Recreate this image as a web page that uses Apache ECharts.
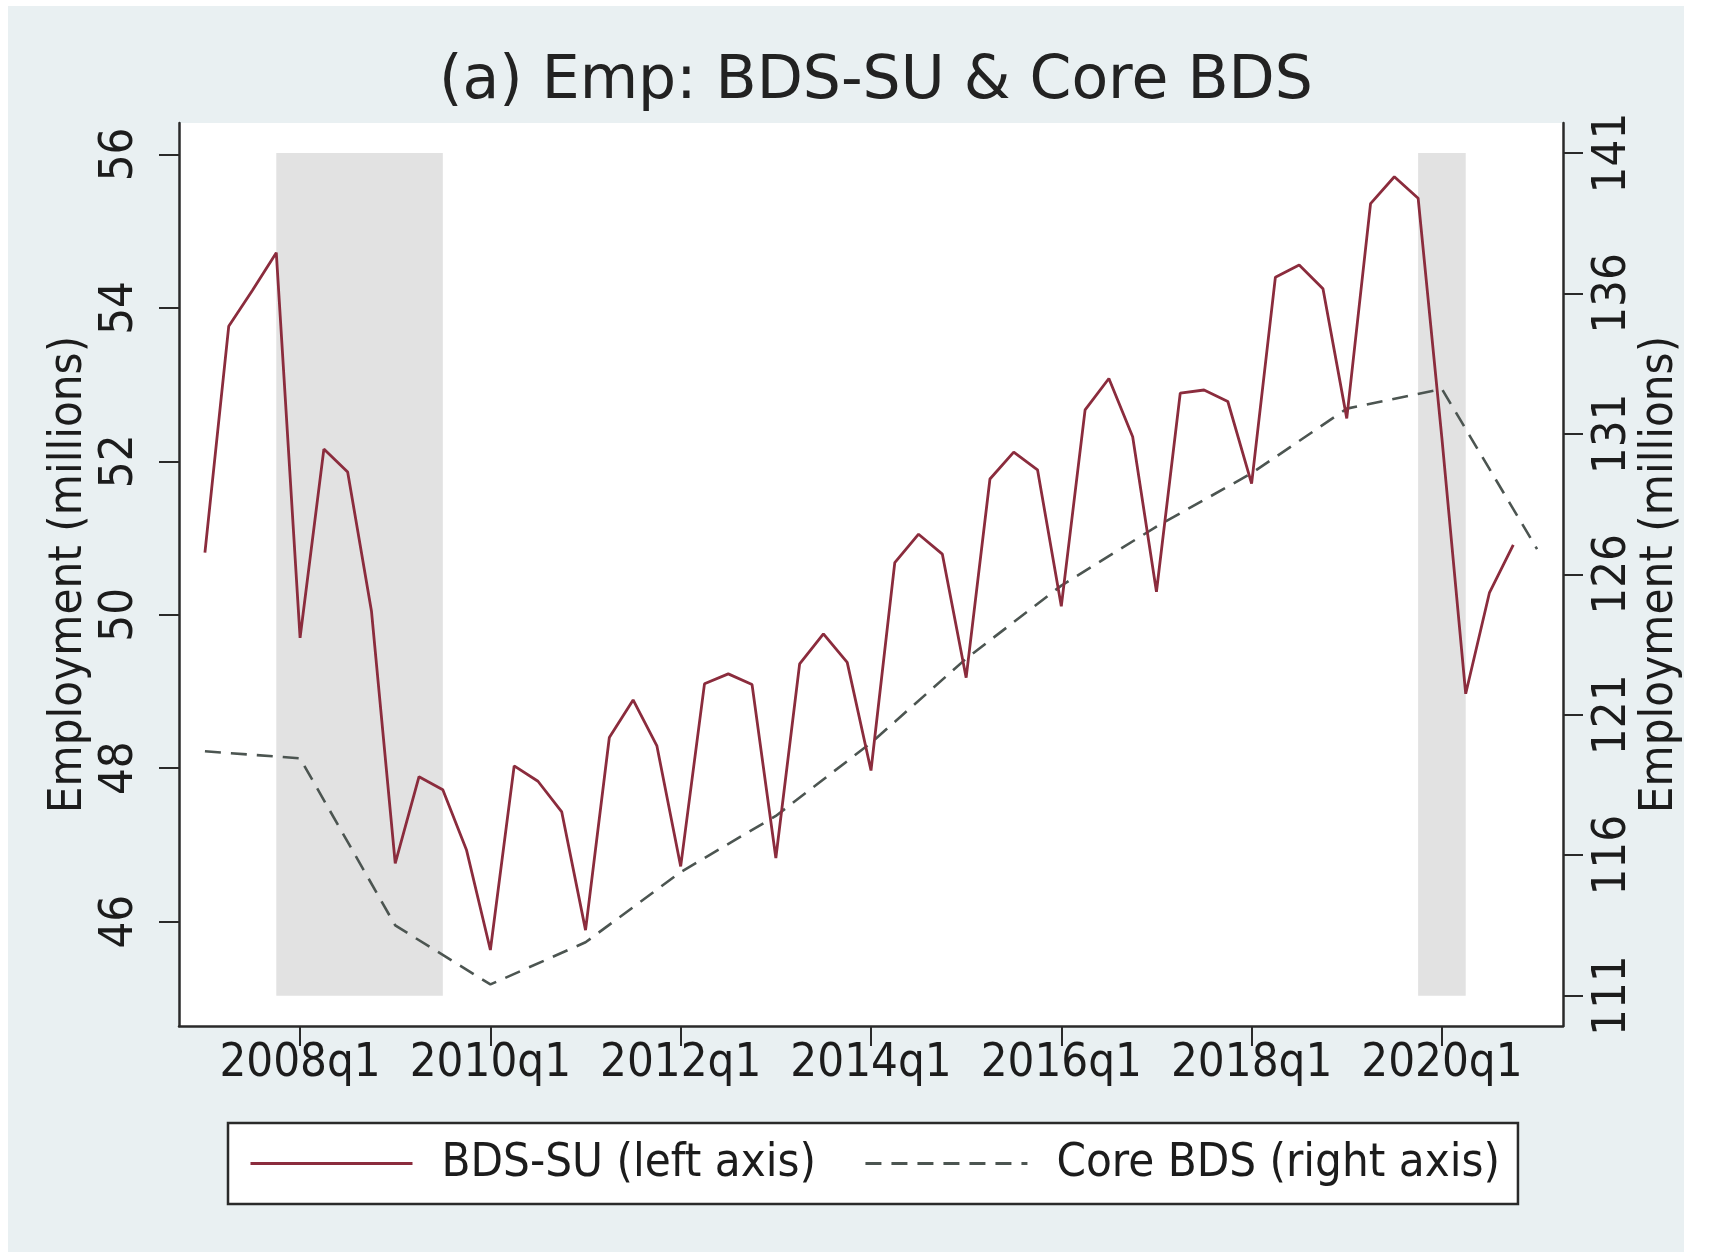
<!DOCTYPE html>
<html>
<head>
<meta charset="utf-8">
<script src="https://cdn.jsdelivr.net/npm/echarts@6/dist/echarts.min.js"></script>
<style>
  html, body { margin: 0; padding: 0; background: #fff; }
  #container { width: 1721px; height: 1255px; }
</style>
</head>
<body>
<div id="container"></div>
<script>
// quarterly BDS-SU employment (left axis, millions)
var quarters = [
  '2007q1','2007q2','2007q3','2007q4','2008q1','2008q2','2008q3','2008q4',
  '2009q1','2009q2','2009q3','2009q4','2010q1','2010q2','2010q3','2010q4',
  '2011q1','2011q2','2011q3','2011q4','2012q1','2012q2','2012q3','2012q4',
  '2013q1','2013q2','2013q3','2013q4','2014q1','2014q2','2014q3','2014q4',
  '2015q1','2015q2','2015q3','2015q4','2016q1','2016q2','2016q3','2016q4',
  '2017q1','2017q2','2017q3','2017q4','2018q1','2018q2','2018q3','2018q4',
  '2019q1','2019q2','2019q3','2019q4','2020q1','2020q2','2020q3','2020q4'
];
var bdsSU = [
  50.81, 53.76, 54.23, 54.72, 49.70, 52.16, 51.86, 50.05,
  46.76, 47.89, 47.72, 46.93, 45.63, 48.03, 47.83, 47.43,
  45.89, 48.40, 48.89, 48.29, 46.72, 49.10, 49.23, 49.09,
  46.83, 49.36, 49.75, 49.38, 47.97, 50.68, 51.05, 50.79,
  49.18, 51.77, 52.12, 51.89, 50.11, 52.67, 53.08, 52.32,
  50.30, 52.89, 52.93, 52.78, 51.71, 54.40, 54.56, 54.25,
  52.56, 55.36, 55.71, 55.43, 52.30, 48.97, 50.29, 50.91
];

// annual Core BDS employment (right axis, millions), plotted at q1
var coreDates = ['2007q1','2008q1','2009q1','2010q1','2011q1','2012q1','2013q1','2014q1',
  '2015q1','2016q1','2017q1','2018q1','2019q1','2020q1','2021q1'];
var coreBDS = [119.7, 119.45, 113.5, 111.4, 112.9, 115.4, 117.4, 120.0,
  123.0, 125.6, 127.7, 129.6, 131.9, 132.6, 126.9];

// recession shading
var recessions = [['2007q4', '2009q3'], ['2019q4', '2020q2']];

var xTicks = ['2008q1','2010q1','2012q1','2014q1','2016q1','2018q1','2020q1'];
var leftTicks = [46, 48, 50, 52, 54, 56];
var rightTicks = [111, 116, 121, 126, 131, 136, 141];

// Stata style quarter index: 1960q1 = 0
function tq(s) {
  var y = parseInt(s.slice(0, 4), 10);
  var q = parseInt(s.slice(5), 10);
  return (y - 1960) * 4 + (q - 1);
}
function tqLabel(v) {
  var y = 1960 + Math.floor(v / 4);
  return y + 'q' + (v % 4 + 1);
}

var condensed = 'DejaVu Sans Condensed, DejaVu Sans';
var ink = '#1c1c1c';

var myChart = echarts.init(document.getElementById('container'));
var option = {
  backgroundColor: '#fff',
  animation: false,
  graphic: [{
    type: 'rect', z: -10, silent: true,
    shape: { x: 8, y: 6, width: 1676, height: 1246 },
    style: { fill: '#e9f0f2' }
  }],
  title: {
    text: '(a) Emp: BDS-SU & Core BDS',
    left: 871, top: 47, textAlign: 'center',
    textStyle: { fontFamily: 'DejaVu Sans', fontSize: 60, fontWeight: 'normal', color: '#222' }
  },
  legend: {
    left: 228, top: 1123,
    padding: [17, 18, 17, 21],
    itemGap: 48, itemWidth: 162, itemHeight: 20,
    borderColor: '#2a2a2a', borderWidth: 2.5, backgroundColor: '#fff',
    itemStyle: { opacity: 0, borderWidth: 0 },
    lineStyle: { width: 3 },
    textStyle: { fontFamily: condensed, fontSize: 47, color: ink, padding: [0, 0, 0, 24] },
    data: ['BDS-SU (left axis)', 'Core BDS (right axis)']
  },
  grid: {
    left: 179, right: 158, top: 123, bottom: 229,
    show: true, backgroundColor: '#fff', borderWidth: 0,
    containLabel: false
  },
  xAxis: {
    type: 'value',
    min: 186.91, max: 245.09,
    axisLine: { onZero: false, lineStyle: { color: '#2a2a2a', width: 2.5 } },
    axisTick: { length: 20, lineStyle: { color: '#2a2a2a', width: 2 }, customValues: xTicks.map(tq) },
    axisLabel: {
      customValues: xTicks.map(tq), formatter: tqLabel,
      margin: 14, fontFamily: condensed, fontSize: 47, color: ink
    },
    splitLine: { show: false }
  },
  yAxis: [{
    type: 'value', position: 'left',
    min: 44.64, max: 56.41,
    name: 'Employment (millions)', nameLocation: 'middle', nameGap: 87, nameRotate: 90,
    nameMoveOverlap: false,
    nameTextStyle: { fontFamily: condensed, fontSize: 47, color: ink },
    axisLine: { show: true, lineStyle: { color: '#2a2a2a', width: 2.5 } },
    axisTick: { show: true, length: 20, lineStyle: { color: '#2a2a2a', width: 2 }, customValues: leftTicks },
    axisLabel: { customValues: leftTicks, rotate: 90, margin: 36, fontFamily: condensed, fontSize: 47, color: ink },
    splitLine: { show: false }
  }, {
    type: 'value', position: 'right',
    min: 109.92, max: 142.07,
    name: 'Employment (millions)', nameLocation: 'middle', nameGap: 73, nameRotate: 90,
    nameMoveOverlap: false,
    nameTextStyle: { fontFamily: condensed, fontSize: 47, color: ink },
    axisLine: { show: true, lineStyle: { color: '#2a2a2a', width: 2.5 } },
    axisTick: { show: true, length: 20, lineStyle: { color: '#2a2a2a', width: 2 }, customValues: rightTicks },
    axisLabel: { customValues: rightTicks, rotate: 90, margin: 26, fontFamily: condensed, fontSize: 47, color: ink },
    splitLine: { show: false }
  }],
  series: [{
    name: 'BDS-SU (left axis)',
    type: 'line',
    yAxisIndex: 0,
    symbol: 'none',
    z: 3,
    lineStyle: { color: '#8b2c3d', width: 2.8 },
    itemStyle: { color: '#8b2c3d' },
    data: quarters.map(function (q, i) { return [tq(q), bdsSU[i]]; })
  }, {
    name: 'Core BDS (right axis)',
    type: 'line',
    yAxisIndex: 1,
    symbol: 'none',
    z: 2,
    lineStyle: { color: '#4c5551', width: 2.6, type: [16, 10] },
    itemStyle: { color: '#4c5551' },
    data: coreDates.map(function (q, i) { return [tq(q), coreBDS[i]]; }),
    markArea: {
      silent: true,
      itemStyle: { color: '#e2e2e2' },
      data: recessions.map(function (r) {
        return [{ coord: [tq(r[0]), rightTicks[0]] }, { coord: [tq(r[1]), rightTicks[rightTicks.length - 1]] }];
      })
    }
  }]
};
myChart.setOption(option, true);
</script>
</body>
</html>
